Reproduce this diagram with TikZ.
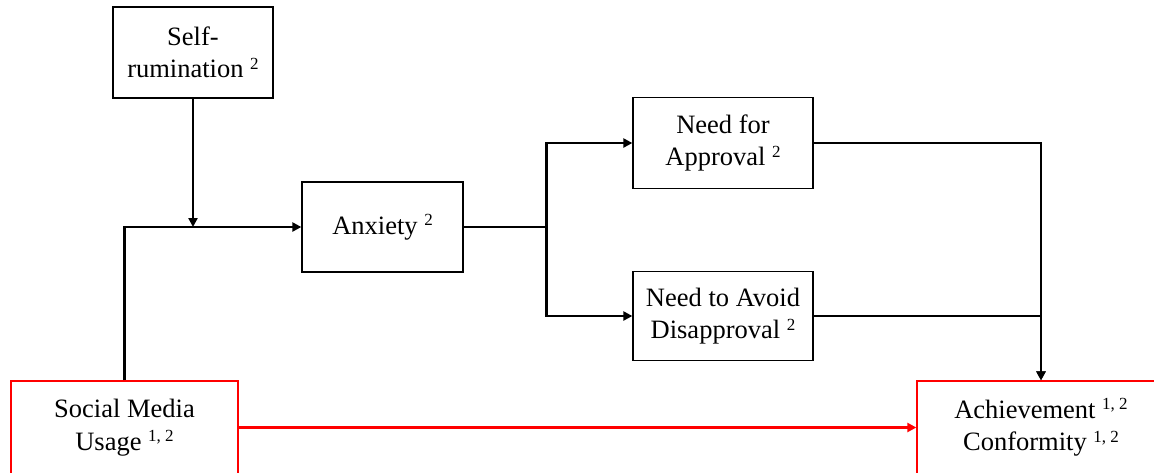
\documentclass[tikz,border=0pt]{standalone}
\usepackage{fontspec}
\setmainfont{Liberation Serif}
\usetikzlibrary{arrows.meta}
\newcommand\supn[1]{\raisebox{8.5pt}{\fontsize{17}{17}\selectfont #1}}
\begin{document}
\begin{tikzpicture}[x=1pt,y=-1pt,
  box/.style={draw=black,line width=1.3pt,fill=white,align=center,
    inner sep=0pt,font=\fontsize{26.5}{32.5}\selectfont},
  redbox/.style={box,draw=red},
  link/.style={line width=2.8pt,-{Triangle[length=9pt,width=9pt]}},
  plain/.style={line width=2.8pt}]
\clip (0,0) rectangle (1154,472);
\fill[white] (0,0) rectangle (1154,472);

% factor boxes
\node[box,minimum width=160pt,minimum height=91pt] (self) at (193,52.5) {Self-\\rumination \supn{2}};
\node[box,minimum width=161pt,minimum height=90pt] (anx) at (382.5,227) {Anxiety \supn{2}};
\node[box,minimum width=180pt,minimum height=91pt] (nfa) at (723,143) {Need for\\Approval \supn{2}};
\node[box,minimum width=180pt,minimum height=89pt] (nta) at (723,316) {Need to Avoid\\Disapproval \supn{2}};
\node[redbox,minimum width=227pt,minimum height=93pt] (sm) at (124.5,427.5) {Social Media\\Usage \supn{1, 2}};
\node[redbox,minimum width=248pt,minimum height=93pt] (ach) at (1041,427.5) {Achievement \supn{1, 2}\\Conformity \supn{1, 2}};

% branch point after anxiety
\coordinate (j) at (546.5,227);

% connectors
\draw[link] (sm.north) |- (anx.west);
\draw[link] (self.south) -- (self.south |- anx.west);
\draw[plain] (anx.east) -- (j);
\draw[link] (j) |- (nfa.west);
\draw[link] (j) |- (nta.west);
\draw[link] (nfa.east) -| (ach.north);
\draw[link] (nta.east) -| (ach.north);
\draw[link,red] (sm.east) -- (ach.west);
\end{tikzpicture}
\end{document}
